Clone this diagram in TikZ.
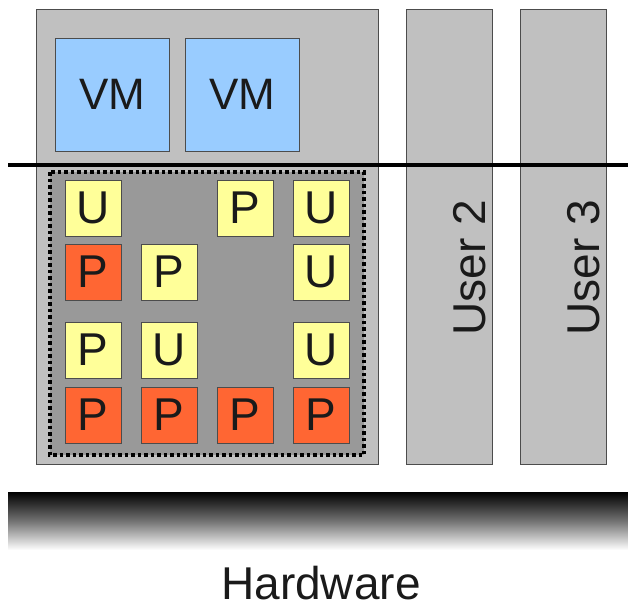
\documentclass[tikz,border=0pt]{standalone}
\usepackage{fontspec}
\setmainfont{Liberation Sans}
\definecolor{boxgray}{HTML}{C0C0C0}
\definecolor{darkgray2}{HTML}{999999}
\definecolor{vmblue}{HTML}{99CCFF}
\definecolor{pyellow}{HTML}{FFFF99}
\definecolor{porange}{HTML}{FF6633}
\definecolor{txt}{HTML}{1A1A1A}
\begin{document}
\begin{tikzpicture}[x=1pt,y=-1pt,
  panel/.style={draw=black!70,line width=1pt,fill=boxgray},
  vmbox/.style={draw=black!70,line width=1pt,fill=vmblue,minimum width=114pt,minimum height=113pt,inner sep=0pt,font=\fontsize{44}{44}\selectfont,text=txt},
  ybox/.style={draw=black!70,line width=1pt,fill=pyellow,minimum size=56pt,inner sep=0pt,font=\fontsize{46}{46}\selectfont,text=txt},
  obox/.style={ybox,fill=porange},
  usertext/.style={rotate=90,font=\fontsize{46}{46}\selectfont,text=txt}
]
\useasboundingbox (0,0) rectangle (628,606);
% panels
\draw[panel] (36,9) rectangle (378,464);
\draw[panel] (406,9) rectangle (492,464);
\draw[panel] (520,9) rectangle (606,464);
\node[usertext] (u2t) at (470,268) {User 2};
\node[usertext] (u3t) at (584,268) {User 3};
% VMs
\node[vmbox] (vm1) at (112,94.5) {VM};
\node[vmbox] (vm2) at (242,94.5) {VM};
% dotted box
\fill[darkgray2] (50,172) rectangle (364,455);
\draw[line width=3.5pt,dash pattern=on 3.5pt off 3pt] (50,172) rectangle (364,455);
% divider
\coordinate (la) at (8,165);
\coordinate (lb) at (628,165);
\draw[line width=3.5pt] (la) -- (lb);
% squares
\node[ybox] (a1) at (93,208) {U};
\node[ybox] (a3) at (245,208) {P};
\node[ybox] (a4) at (321,208) {U};
\node[obox] (b1) at (93,272) {P};
\node[ybox] (b2) at (169,272) {P};
\node[ybox] (b4) at (321,272) {U};
\node[ybox] (c1) at (93,350) {P};
\node[ybox] (c2) at (169,350) {U};
\node[ybox] (c4) at (321,350) {U};
\node[obox] (d1) at (93,415) {P};
\node[obox] (d2) at (169,415) {P};
\node[obox] (d3) at (245,415) {P};
\node[obox] (d4) at (321,415) {P};
% hardware
\shade[top color=black,bottom color=white,middle color=black!55] (8,492) rectangle (628,550);
\node[font=\fontsize{46}{46}\selectfont,text=txt,inner sep=0pt,anchor=base] (hw) at (321,599) {Hardware};
\end{tikzpicture}
\end{document}
